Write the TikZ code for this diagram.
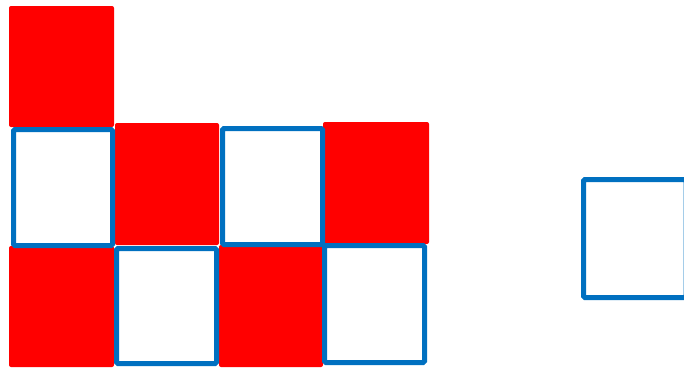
\documentclass[tikz,border=0pt]{standalone}
\usepackage{tikz}
\definecolor{tileblue}{RGB}{0,112,192}

\begin{document}
\begin{tikzpicture}[x=1pt, y=-1pt]
  \useasboundingbox (0,0) rectangle (684,367);
  \clip (0,0) rectangle (684,367);
  % Red filled tiles
  \foreach \x/\y/\u/\v in {9/6/114/127, 115/123/219/245, 323/122/429/244, 9/246/114/367, 219/245/323/367} {
    \fill[red, rounded corners=2pt] (\x,\y) rectangle (\u,\v);
  }
  % Blue outlined tiles
  \foreach \x/\y/\u/\v in {13.5/129.5/112.5/245.5, 116.5/248.5/216.5/363.5, 222.5/128.5/322.5/244.5, 324.5/245.5/424.5/362.5, 583.5/179.5/686/297.5} {
    \draw[line width=5pt, tileblue, rounded corners=1.5pt] (\x,\y) rectangle (\u,\v);
  }
\end{tikzpicture}
\end{document}
